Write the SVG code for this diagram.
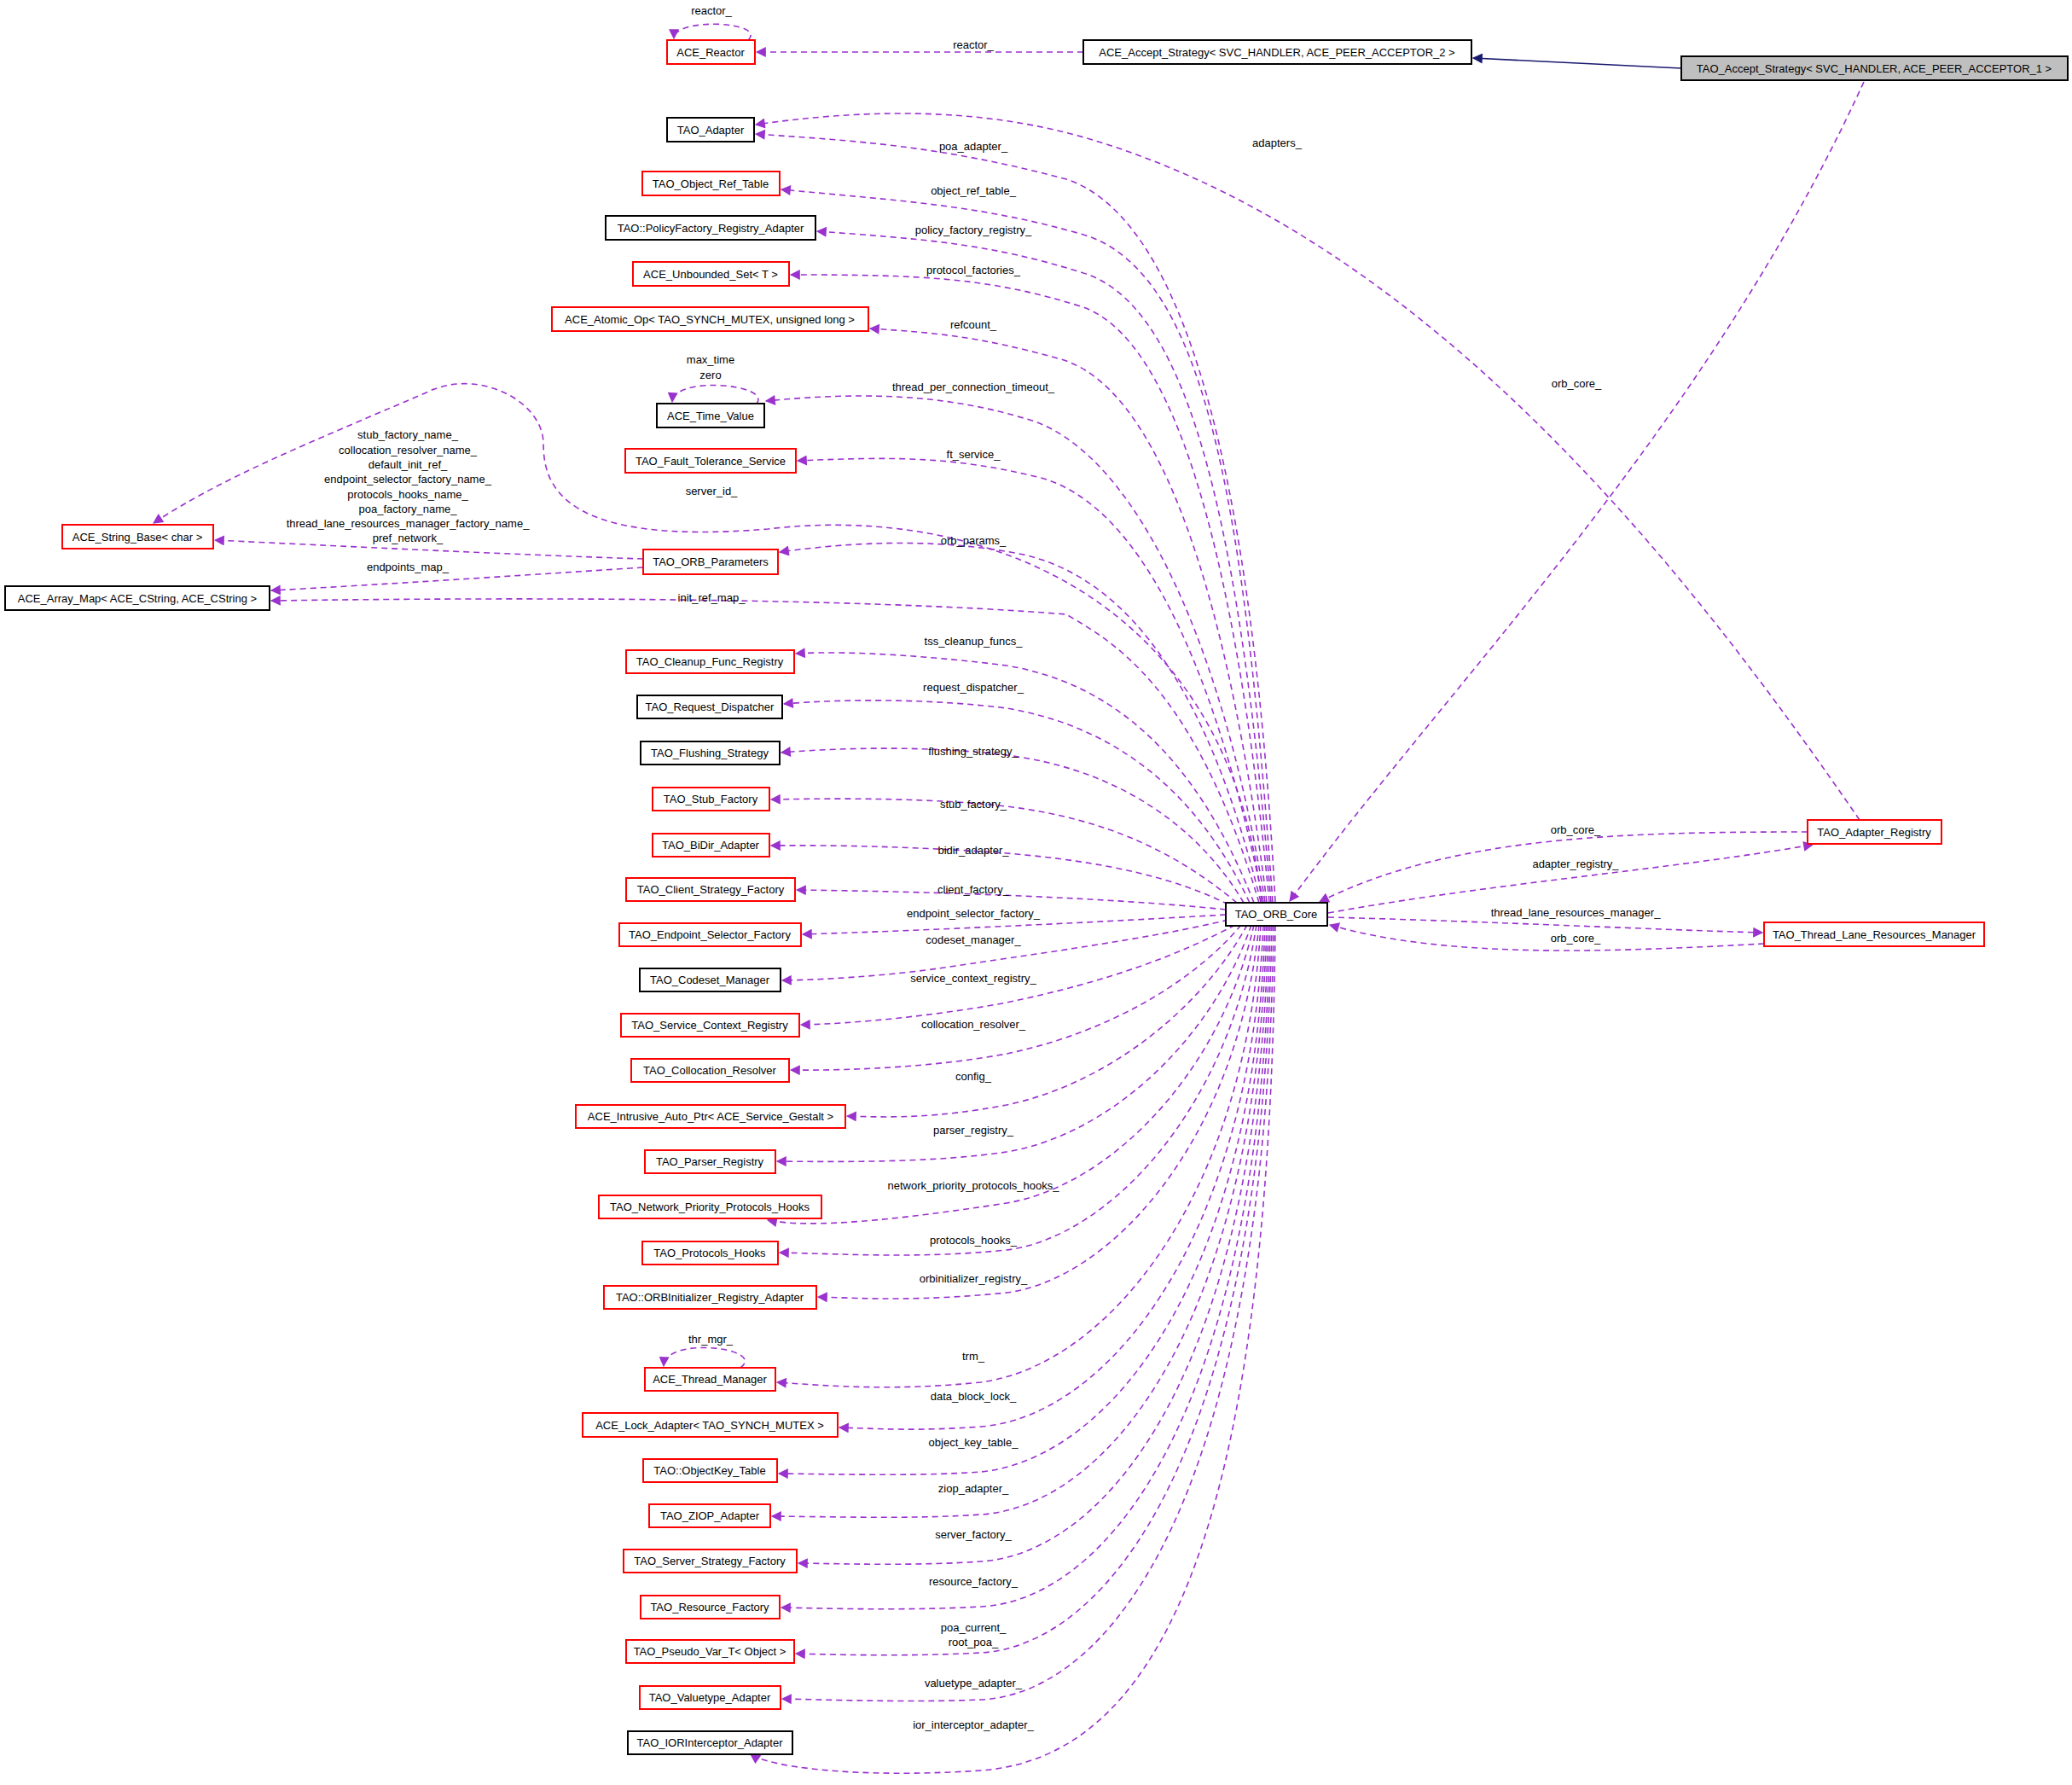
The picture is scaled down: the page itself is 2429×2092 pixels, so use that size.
<svg xmlns="http://www.w3.org/2000/svg" width="2429" height="2092" viewBox="0 0 2429 2092">
<style>
.n rect{fill:#fff;stroke-width:2}
.r rect{stroke:#ff0000}
.b rect{stroke:#000}
text{font-family:"Liberation Sans",Arial,sans-serif;font-size:13px;fill:#000}
.n text{text-anchor:middle}
.l{text-anchor:middle}
.e path{fill:none;stroke:#9a32cd;stroke-width:1.6;stroke-dasharray:7,5;marker-end:url(#a)}
.e path.s{stroke:#191970;stroke-dasharray:none;marker-end:url(#an)}
</style>
<defs>
<marker id="a" viewBox="0 0 10 10" refX="9" refY="5" markerWidth="14" markerHeight="12" orient="auto" markerUnits="userSpaceOnUse"><path d="M0,0L10,5L0,10z" fill="#9a32cd"/></marker>
<marker id="an" viewBox="0 0 10 10" refX="9" refY="5" markerWidth="14" markerHeight="12" orient="auto" markerUnits="userSpaceOnUse"><path d="M0,0L10,5L0,10z" fill="#191970"/></marker>
</defs>
<rect width="2429" height="2092" fill="#fff"/>
<g class="e" id="edges">
<path d="M877,47 C900,25 790,20 790,45"/>
<path d="M1270,61 L887,61"/>
<path class="s" d="M1971,80 L1727,68"/>
<path d="M2185,96 C2000,500 1700,800 1512,1056"/>
<path d="M2180,961 C2000,700 1700,300 1300,170 C1150,120 1000,130 886,146"/>
<path d="M1495,1057 C1470,600 1400,260 1250,210 C1100,170 1000,165 886,157"/>
<path d="M1492,1057 C1460,620 1420,320 1270,275 C1150,240 1050,235 916,222"/>
<path d="M1490,1057 C1455,640 1400,360 1270,320 C1160,285 1080,280 958,271"/>
<path d="M1488,1057 C1450,660 1380,400 1270,360 C1160,325 1080,322 927,322"/>
<path d="M1485,1057 C1440,700 1360,450 1240,420 C1150,395 1100,390 1020,385"/>
<path d="M1483,1057 C1430,730 1320,520 1200,490 C1100,460 1000,460 898,470"/>
<path d="M887,473 C905,450 790,440 788,471"/>
<path d="M1481,1057 C1420,760 1330,590 1220,560 C1120,535 1050,535 935,540"/>
<path d="M1479,1057 C1440,700 1150,590 900,620 C660,640 637,570 637,520 C637,470 560,430 500,460 C360,520 260,560 180,613"/>
<path d="M1478,1057 C1420,820 1330,680 1200,650 C1100,630 1000,635 914,647"/>
<path d="M754,655 C600,650 400,640 252,633"/>
<path d="M754,665 C600,675 450,685 318,692"/>
<path d="M1476,1058 C1400,800 1300,750 1250,720 C1000,700 600,700 318,704"/>
<path d="M1470,1058 C1400,880 1300,800 1180,780 C1100,770 1000,762 933,766"/>
<path d="M1465,1058 C1400,920 1300,850 1180,830 C1100,820 1000,818 919,825"/>
<path d="M1458,1058 C1400,960 1300,900 1180,885 C1100,875 1000,875 916,882"/>
<path d="M1450,1058 C1380,1000 1300,960 1180,945 C1100,936 1000,935 904,937"/>
<path d="M1440,1060 C1380,1030 1300,1010 1180,1000 C1100,994 1000,990 904,991"/>
<path d="M1437,1066 C1300,1052 1100,1045 934,1043"/>
<path d="M1437,1072 C1300,1080 1100,1090 941,1095"/>
<path d="M1440,1078 C1350,1100 1200,1120 1100,1135 C1050,1142 980,1148 917,1149"/>
<path d="M1448,1084 C1380,1120 1300,1150 1180,1175 C1100,1190 1000,1200 939,1201"/>
<path d="M1455,1084 C1400,1150 1300,1210 1180,1235 C1100,1250 1000,1255 927,1254"/>
<path d="M1462,1084 C1410,1180 1300,1270 1180,1295 C1100,1310 1050,1310 993,1308"/>
<path d="M1467,1084 C1420,1220 1300,1330 1180,1350 C1100,1362 1000,1362 911,1361"/>
<path d="M1470,1084 C1430,1260 1300,1390 1180,1410 C1050,1430 950,1440 900,1430"/>
<path d="M1473,1084 C1440,1300 1300,1450 1180,1465 C1080,1475 1000,1470 914,1468"/>
<path d="M1476,1084 C1450,1340 1300,1500 1180,1515 C1080,1525 1020,1522 959,1520"/>
<path d="M1478,1084 C1460,1400 1300,1600 1150,1620 C1050,1630 980,1625 911,1620"/>
<path d="M868,1603 C900,1580 780,1565 778,1601"/>
<path d="M1481,1084 C1465,1450 1300,1660 1150,1672 C1080,1677 1040,1675 984,1673"/>
<path d="M1483,1084 C1470,1500 1300,1710 1150,1725 C1080,1730 1000,1728 913,1727"/>
<path d="M1485,1084 C1472,1550 1300,1765 1150,1775 C1080,1780 1000,1778 905,1777"/>
<path d="M1487,1084 C1475,1600 1300,1820 1150,1830 C1080,1835 1000,1833 936,1832"/>
<path d="M1489,1084 C1478,1650 1300,1875 1150,1883 C1080,1887 1000,1886 916,1884"/>
<path d="M1491,1084 C1480,1700 1300,1928 1150,1937 C1080,1941 1000,1940 933,1938"/>
<path d="M1493,1084 C1484,1760 1300,1985 1150,1992 C1080,1995 1000,1993 917,1991"/>
<path d="M1495,1084 C1488,1820 1350,2060 1150,2075 C1000,2085 900,2070 880,2056"/>
<path d="M2119,975 C1900,975 1700,980 1547,1057"/>
<path d="M1557,1070 C1750,1035 1950,1020 2125,990"/>
<path d="M1557,1075 C1750,1080 1950,1090 2066,1093"/>
<path d="M2068,1106 C1900,1115 1700,1125 1559,1084"/>
</g>
<g class="n r" id="ACE_Reactor"><rect x="782" y="47" width="103" height="28"/><text x="833" y="66">ACE_Reactor</text></g>
<g class="n b" id="ACE_Accept_Strategy"><rect x="1270" y="47" width="455" height="28"/><text x="1497" y="66">ACE_Accept_Strategy&lt; SVC_HANDLER, ACE_PEER_ACCEPTOR_2 &gt;</text></g>
<g class="n b" id="TAO_Accept_Strategy"><rect x="1971" y="66" width="453" height="28" style="fill:#bfbfbf"/><text x="2197" y="85">TAO_Accept_Strategy&lt; SVC_HANDLER, ACE_PEER_ACCEPTOR_1 &gt;</text></g>
<g class="n b" id="TAO_Adapter"><rect x="782" y="138" width="102" height="28"/><text x="833" y="157">TAO_Adapter</text></g>
<g class="n r" id="TAO_Object_Ref_Table"><rect x="753" y="201" width="161" height="28"/><text x="833" y="220">TAO_Object_Ref_Table</text></g>
<g class="n b" id="PolicyFactory"><rect x="710" y="253" width="246" height="28"/><text x="833" y="272">TAO::PolicyFactory_Registry_Adapter</text></g>
<g class="n r" id="ACE_Unbounded_Set"><rect x="742" y="307" width="183" height="28"/><text x="833" y="326">ACE_Unbounded_Set&lt; T &gt;</text></g>
<g class="n r" id="ACE_Atomic_Op"><rect x="647" y="360" width="371" height="28"/><text x="832" y="379">ACE_Atomic_Op&lt; TAO_SYNCH_MUTEX, unsigned long &gt;</text></g>
<g class="n b" id="ACE_Time_Value"><rect x="770" y="473" width="126" height="28"/><text x="833" y="492">ACE_Time_Value</text></g>
<g class="n r" id="TAO_Fault_Tolerance_Service"><rect x="733" y="526" width="200" height="28"/><text x="833" y="545">TAO_Fault_Tolerance_Service</text></g>
<g class="n r" id="ACE_String_Base"><rect x="73" y="615" width="177" height="28"/><text x="161" y="634">ACE_String_Base&lt; char &gt;</text></g>
<g class="n r" id="TAO_ORB_Parameters"><rect x="754" y="644" width="158" height="29"/><text x="833" y="663">TAO_ORB_Parameters</text></g>
<g class="n b" id="ACE_Array_Map"><rect x="6" y="687" width="310" height="28"/><text x="161" y="706">ACE_Array_Map&lt; ACE_CString, ACE_CString &gt;</text></g>
<g class="n r" id="TAO_Cleanup_Func_Registry"><rect x="734" y="762" width="197" height="27"/><text x="832" y="780">TAO_Cleanup_Func_Registry</text></g>
<g class="n b" id="TAO_Request_Dispatcher"><rect x="747" y="815" width="170" height="27"/><text x="832" y="833">TAO_Request_Dispatcher</text></g>
<g class="n b" id="TAO_Flushing_Strategy"><rect x="751" y="869" width="163" height="27"/><text x="832" y="887">TAO_Flushing_Strategy</text></g>
<g class="n r" id="TAO_Stub_Factory"><rect x="765" y="923" width="137" height="27"/><text x="833" y="941">TAO_Stub_Factory</text></g>
<g class="n r" id="TAO_BiDir_Adapter"><rect x="765" y="977" width="137" height="27"/><text x="833" y="995">TAO_BiDir_Adapter</text></g>
<g class="n r" id="TAO_Client_Strategy_Factory"><rect x="734" y="1029" width="198" height="27"/><text x="833" y="1047">TAO_Client_Strategy_Factory</text></g>
<g class="n r" id="TAO_Endpoint_Selector_Factory"><rect x="726" y="1082" width="213" height="27"/><text x="832" y="1100">TAO_Endpoint_Selector_Factory</text></g>
<g class="n b" id="TAO_Codeset_Manager"><rect x="750" y="1135" width="165" height="27"/><text x="832" y="1153">TAO_Codeset_Manager</text></g>
<g class="n r" id="TAO_Service_Context_Registry"><rect x="728" y="1188" width="209" height="27"/><text x="832" y="1206">TAO_Service_Context_Registry</text></g>
<g class="n r" id="TAO_Collocation_Resolver"><rect x="740" y="1241" width="185" height="27"/><text x="832" y="1259">TAO_Collocation_Resolver</text></g>
<g class="n r" id="ACE_Intrusive_Auto_Ptr"><rect x="675" y="1295" width="316" height="27"/><text x="833" y="1313">ACE_Intrusive_Auto_Ptr&lt; ACE_Service_Gestalt &gt;</text></g>
<g class="n r" id="TAO_Parser_Registry"><rect x="756" y="1348" width="153" height="27"/><text x="832" y="1366">TAO_Parser_Registry</text></g>
<g class="n r" id="TAO_Network_Priority_Protocols_Hooks"><rect x="702" y="1401" width="261" height="27"/><text x="832" y="1419">TAO_Network_Priority_Protocols_Hooks</text></g>
<g class="n r" id="TAO_Protocols_Hooks"><rect x="753" y="1455" width="159" height="27"/><text x="832" y="1473">TAO_Protocols_Hooks</text></g>
<g class="n r" id="ORBInitializer"><rect x="708" y="1507" width="249" height="27"/><text x="832" y="1525">TAO::ORBInitializer_Registry_Adapter</text></g>
<g class="n r" id="ACE_Thread_Manager"><rect x="756" y="1603" width="153" height="27"/><text x="832" y="1621">ACE_Thread_Manager</text></g>
<g class="n r" id="ACE_Lock_Adapter"><rect x="683" y="1656" width="299" height="28"/><text x="832" y="1675">ACE_Lock_Adapter&lt; TAO_SYNCH_MUTEX &gt;</text></g>
<g class="n r" id="ObjectKey_Table"><rect x="754" y="1710" width="157" height="27"/><text x="832" y="1728">TAO::ObjectKey_Table</text></g>
<g class="n r" id="TAO_ZIOP_Adapter"><rect x="761" y="1763" width="142" height="27"/><text x="832" y="1781">TAO_ZIOP_Adapter</text></g>
<g class="n r" id="TAO_Server_Strategy_Factory"><rect x="731" y="1816" width="203" height="27"/><text x="832" y="1834">TAO_Server_Strategy_Factory</text></g>
<g class="n r" id="TAO_Resource_Factory"><rect x="751" y="1870" width="163" height="27"/><text x="832" y="1888">TAO_Resource_Factory</text></g>
<g class="n r" id="TAO_Pseudo_Var_T"><rect x="734" y="1922" width="197" height="27"/><text x="832" y="1940">TAO_Pseudo_Var_T&lt; Object &gt;</text></g>
<g class="n r" id="TAO_Valuetype_Adapter"><rect x="750" y="1976" width="165" height="27"/><text x="832" y="1994">TAO_Valuetype_Adapter</text></g>
<g class="n b" id="TAO_IORInterceptor_Adapter"><rect x="736" y="2029" width="193" height="27"/><text x="832" y="2047">TAO_IORInterceptor_Adapter</text></g>
<g class="n b" id="TAO_ORB_Core"><rect x="1437" y="1058" width="119" height="27"/><text x="1496" y="1076">TAO_ORB_Core</text></g>
<g class="n r" id="TAO_Adapter_Registry"><rect x="2119" y="961" width="157" height="28"/><text x="2197" y="980">TAO_Adapter_Registry</text></g>
<g class="n r" id="TAO_Thread_Lane_Resources_Manager"><rect x="2068" y="1081" width="258" height="28"/><text x="2197" y="1100">TAO_Thread_Lane_Resources_Manager</text></g>
<g id="labels">
<text class="l" x="834" y="17">reactor_</text>
<text class="l" x="1141" y="57">reactor_</text>
<text class="l" x="1497" y="172">adapters_</text>
<text class="l" x="1848" y="454">orb_core_</text>
<text class="l" x="1141" y="176">poa_adapter_</text>
<text class="l" x="1141" y="228">object_ref_table_</text>
<text class="l" x="1141" y="274">policy_factory_registry_</text>
<text class="l" x="1141" y="321">protocol_factories_</text>
<text class="l" x="1141" y="385">refcount_</text>
<text class="l" x="833" y="426">max_time</text>
<text class="l" x="833" y="444">zero</text>
<text class="l" x="1141" y="458">thread_per_connection_timeout_</text>
<text class="l" x="1141" y="537">ft_service_</text>
<text class="l" x="834" y="580">server_id_</text>
<text class="l" x="478" y="514">stub_factory_name_</text>
<text class="l" x="478" y="532">collocation_resolver_name_</text>
<text class="l" x="478" y="549">default_init_ref_</text>
<text class="l" x="478" y="566">endpoint_selector_factory_name_</text>
<text class="l" x="478" y="584">protocols_hooks_name_</text>
<text class="l" x="478" y="601">poa_factory_name_</text>
<text class="l" x="478" y="618">thread_lane_resources_manager_factory_name_</text>
<text class="l" x="478" y="635">pref_network_</text>
<text class="l" x="1141" y="638">orb_params_</text>
<text class="l" x="478" y="669">endpoints_map_</text>
<text class="l" x="834" y="705">init_ref_map_</text>
<text class="l" x="1141" y="756">tss_cleanup_funcs_</text>
<text class="l" x="1141" y="810">request_dispatcher_</text>
<text class="l" x="1141" y="885">flushing_strategy_</text>
<text class="l" x="1141" y="947">stub_factory_</text>
<text class="l" x="1141" y="1001">bidir_adapter_</text>
<text class="l" x="1141" y="1047">client_factory_</text>
<text class="l" x="1141" y="1075">endpoint_selector_factory_</text>
<text class="l" x="1141" y="1106">codeset_manager_</text>
<text class="l" x="1141" y="1151">service_context_registry_</text>
<text class="l" x="1141" y="1205">collocation_resolver_</text>
<text class="l" x="1141" y="1266">config_</text>
<text class="l" x="1141" y="1329">parser_registry_</text>
<text class="l" x="1141" y="1394">network_priority_protocols_hooks_</text>
<text class="l" x="1141" y="1458">protocols_hooks_</text>
<text class="l" x="1141" y="1503">orbinitializer_registry_</text>
<text class="l" x="833" y="1574">thr_mgr_</text>
<text class="l" x="1141" y="1594">trm_</text>
<text class="l" x="1141" y="1641">data_block_lock_</text>
<text class="l" x="1141" y="1695">object_key_table_</text>
<text class="l" x="1141" y="1749">ziop_adapter_</text>
<text class="l" x="1141" y="1803">server_factory_</text>
<text class="l" x="1141" y="1858">resource_factory_</text>
<text class="l" x="1141" y="1912">poa_current_</text>
<text class="l" x="1141" y="1929">root_poa_</text>
<text class="l" x="1141" y="1977">valuetype_adapter_</text>
<text class="l" x="1141" y="2026">ior_interceptor_adapter_</text>
<text class="l" x="1847" y="977">orb_core_</text>
<text class="l" x="1847" y="1017">adapter_registry_</text>
<text class="l" x="1847" y="1074">thread_lane_resources_manager_</text>
<text class="l" x="1847" y="1104">orb_core_</text>
</g>
</svg>
